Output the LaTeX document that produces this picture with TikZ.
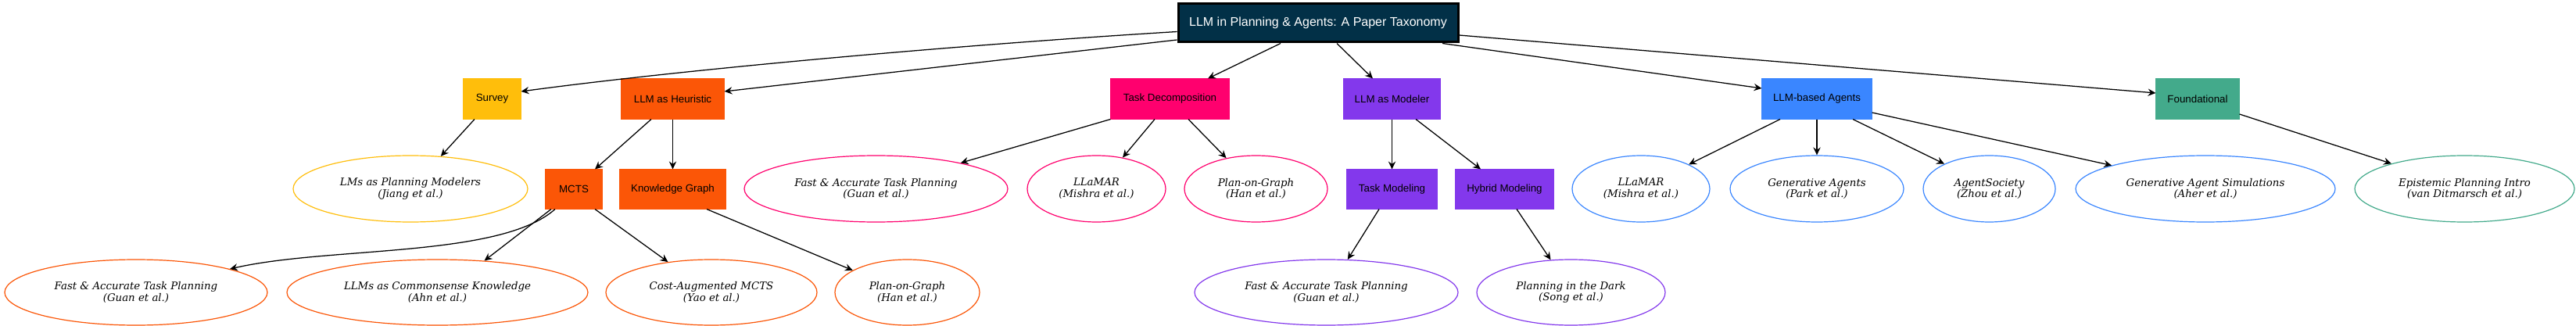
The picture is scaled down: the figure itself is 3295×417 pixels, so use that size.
\documentclass[tikz,border=0pt]{standalone}
\usepackage{fontspec}
\setmainfont{Liberation Sans}
\newfontfamily\ellfont{DejaVu Serif}
\usetikzlibrary{arrows.meta,shapes.geometric,calc}
\definecolor{cSurvey}{HTML}{FFBE0B}
\definecolor{cHeur}{HTML}{FB5607}
\definecolor{cTD}{HTML}{FF006E}
\definecolor{cMod}{HTML}{8338EC}
\definecolor{cAg}{HTML}{3A86FF}
\definecolor{cFound}{HTML}{43AA8B}
\definecolor{cRoot}{HTML}{023047}
\tikzset{
  cat/.style={rectangle, inner sep=0pt, fill=#1, draw=#1, line width=0.8pt, text=black, font=\fontsize{10}{12}\selectfont},
  bsize/.style 2 args={minimum width=#1*0.75pt, minimum height=#2*0.75pt},
  paper/.style={ellipse, draw=#1, fill=white, line width=0.9pt, inner sep=0pt, align=center, font=\ellfont\itshape\fontsize{10}{11}\selectfont},
  esize/.style 2 args={minimum width=#1*1.5pt, minimum height=#2*1.5pt},
  conn/.style={-{Stealth[length=7.5pt,width=7pt,inset=2.6pt]}, line width=0.95pt, black},
}
\begin{document}
\begin{tikzpicture}[x=0.75pt, y=-0.75pt]
\useasboundingbox (0,0) rectangle (3295,417);
\fill[white] (0,0) rectangle (3295,417);
% root
\node[rectangle, inner sep=0pt, fill=cRoot, draw=black, line width=2.25pt, text=white, font=\fontsize{12}{14}\selectfont, bsize={358}{49}] (root) at (1686,29.5) {LLM in Planning \& Agents: A Paper Taxonomy};
% level 1
\node[cat=cSurvey, bsize={73}{51}] (survey) at (629.5,126.5) {Survey};
\node[cat=cHeur, bsize={131}{51}] (heur) at (860.5,126.5) {LLM as Heuristic};
\node[cat=cTD, bsize={151}{51}] (td) at (1496.5,126.5) {Task Decomposition};
\node[cat=cMod, bsize={123}{51}] (mod) at (1780.5,126.5) {LLM as Modeler};
\node[cat=cAg, bsize={140}{51}] (ag) at (2324,126.5) {LLM-based Agents};
\node[cat=cFound, bsize={106}{51}] (found) at (2811,126.5) {Foundational};
% level 2 boxes
\node[cat=cHeur, bsize={72}{50}] (mcts) at (734,242) {MCTS};
\node[cat=cHeur, bsize={135}{50}] (kg) at (860.5,242) {Knowledge Graph};
\node[cat=cMod, bsize={115}{50}] (tm) at (1780.5,242) {Task Modeling};
\node[cat=cMod, bsize={125}{50}] (hm) at (1924.5,242) {Hybrid Modeling};
% level 2 papers
\node[paper=cSurvey, esize={150}{42.5}] (p1) at (525,241.5) {LMs as Planning Modelers\\(Jiang et al.)};
\node[paper=cTD, esize={168.5}{42.5}] (p2) at (1120.5,241.5) {Fast \& Accurate Task Planning\\(Guan et al.)};
\node[paper=cTD, esize={88.5}{42.5}] (p3) at (1402.5,241.5) {LLaMAR\\(Mishra et al.)};
\node[paper=cTD, esize={91.5}{42.5}] (p4) at (1606.5,241.5) {Plan-on-Graph\\(Han et al.)};
\node[paper=cAg, esize={88}{42.5}] (p5) at (2099,241.5) {LLaMAR\\(Mishra et al.)};
\node[paper=cAg, esize={111}{42.5}] (p6) at (2324,241.5) {Generative Agents\\(Park et al.)};
\node[paper=cAg, esize={84.5}{42.5}] (p7) at (2544.5,241.5) {AgentSociety\\(Zhou et al.)};
\node[paper=cAg, esize={166}{42.5}] (p8) at (2821,241.5) {Generative Agent Simulations\\(Aher et al.)};
\node[paper=cFound, esize={140.5}{42.5}] (p9) at (3152.5,241.5) {Epistemic Planning Intro\\(van Ditmarsch et al.)};
% level 3 papers
\node[paper=cHeur, esize={168}{42}] (q1) at (174,374) {Fast \& Accurate Task Planning\\(Guan et al.)};
\node[paper=cHeur, esize={192.5}{42}] (q2) at (559.5,374) {LLMs as Commonsense Knowledge\\(Ahn et al.)};
\node[paper=cHeur, esize={135}{42}] (q3) at (910,374) {Cost-Augmented MCTS\\(Yao et al.)};
\node[paper=cHeur, esize={92.5}{42}] (q4) at (1160.5,374) {Plan-on-Graph\\(Han et al.)};
\node[paper=cMod, esize={168.5}{42}] (q5) at (1696.5,374) {Fast \& Accurate Task Planning\\(Guan et al.)};
\node[paper=cMod, esize={120.5}{42}] (q6) at (2009.5,374) {Planning in the Dark\\(Song et al.)};
% edges from root
\draw[conn] ($(root.west)+(0,11)$) .. controls (1207,58.7) and (866,90) .. ($(survey.east)+(0,-9.5)$);
\draw[conn] ($(root.west)+(0,21.5)$) -- ($(heur.east)+(0,-9.5)$);
\draw[conn] ($(root.south)+(-48,0)$) -- ($(td.north)+(48.5,0)$);
\draw[conn] ($(root.south)+(24,0)$) -- ($(mod.north)+(-24.5,0)$);
\draw[conn] ($(root.south)+(159,0)$) -- ($(ag.west)+(0,-13.5)$);
\draw[conn] ($(root.east)+(0,15.5)$) -- ($(found.west)+(0,-7.5)$);
% level 1 edges
\draw[conn] ($(survey.south)+(-22.5,0)$) -- (p1.47.5);
\draw[conn] ($(heur.south)+(-27.5,0)$) -- ($(mcts.north)+(27,0)$);
\draw[conn] (heur.south) -- (kg.north);
\draw[conn] (td.south west) -- (p2.17.1);
\draw[conn] ($(td.south)+(-19.5,0)$) -- (p3.50.6);
\draw[conn] ($(td.south)+(23.5,0)$) -- (p4.134.3);
\draw[conn] (mod.south) -- (tm.north);
\draw[conn] ($(mod.south)+(30.5,0)$) -- ($(hm.north)+(-30.5,0)$);
\draw[conn] ($(ag.south)+(-47,0)$) -- (p5.27.7);
\draw[conn] (ag.south) -- (p6.north);
\draw[conn] ($(ag.south)+(46,0)$) -- (p7.151.6);
\draw[conn] ($(ag.east)+(0,17.5)$) -- (p8.166.9);
\draw[conn] ($(found.east)+(0,19.5)$) -- (p9.161);
% level 2 edges
\draw[conn] ($(mcts.south)+(-24,0)$) .. controls (640,330) and (420,315) .. (q1.14.8);
\draw[conn] ($(mcts.south)+(-29,0)$) -- (q2.34.8);
\draw[conn] ($(mcts.south)+(27,0)$) -- (q3.145.8);
\draw[conn] ($(kg.south)+(43.5,0)$) -- (q4.158.1);
\draw[conn] ($(tm.south)+(-16.5,0)$) -- (q5.57.8);
\draw[conn] ($(hm.south)+(15.5,0)$) -- (q6.122.2);
\end{tikzpicture}
\end{document}
